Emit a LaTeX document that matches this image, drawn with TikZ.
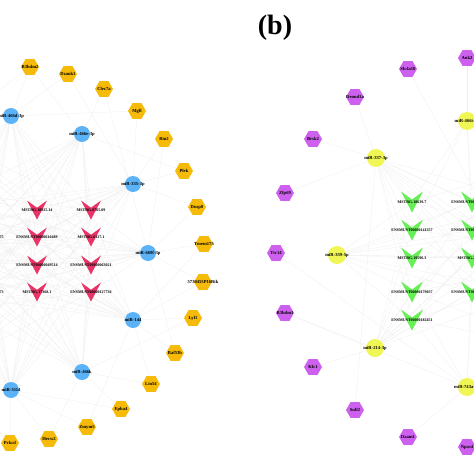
\documentclass[tikz,border=0pt]{standalone}
\usepackage{fontspec}
\setmainfont{Liberation Serif}
\usepackage{tikz}
\usetikzlibrary{calc, shapes.geometric, backgrounds}
\usepackage{xcolor}
\definecolor{hexgold}{RGB}{246,186,8}
\definecolor{mirblue}{RGB}{92,178,246}
\definecolor{lncpink}{RGB}{232,52,102}
\definecolor{hexpurple}{RGB}{205,96,238}
\definecolor{miryellow}{RGB}{240,246,84}
\definecolor{lncgreen}{RGB}{104,238,86}

\begin{document}
\begin{tikzpicture}[x=1pt, y=-1pt,
  edge/.style={draw=gray!13, line width=0.3pt},
  lab/.style={font=\fontsize{4.6}{5}\selectfont\bfseries, inner sep=0pt},
  tinylab/.style={font=\fontsize{4}{5}\selectfont\bfseries, inner sep=0pt},
  mrna/.style={regular polygon, regular polygon sides=6, minimum size=18pt, inner sep=0pt, fill=#1},
  mirna/.style={circle, minimum size=16pt, inner sep=0pt, fill=#1},
  vshape/.style={minimum width=20pt, minimum height=19pt, inner sep=0pt,
    path picture={\fill[#1] (path picture bounding box.north west)
      -- ($(path picture bounding box.north)!0.38!(path picture bounding box.south)$)
      -- (path picture bounding box.north east) -- (path picture bounding box.south) -- cycle;}},
]
  \useasboundingbox (0,0) rectangle (474,474);
  \clip (0,0) rectangle (474,474);

  % Panel tag
  \node[font=\fontsize{28}{30}\selectfont\bfseries] (tagb) at (275,28) {(b)};

  % Left: target genes
  \node[mrna=hexgold, label={[lab]center:R3hdm2}] (h1) at (30,67) {};
  \node[mrna=hexgold, label={[lab]center:Dzank1}] (h2) at (68,74) {};
  \node[mrna=hexgold, label={[lab]center:Clec7a}] (h3) at (104,89) {};
  \node[mrna=hexgold, label={[lab]center:Mgll}] (h4) at (137,111) {};
  \node[mrna=hexgold, label={[lab]center:Rin2}] (h5) at (164,139) {};
  \node[mrna=hexgold, label={[lab]center:Plek}] (h6) at (184,171) {};
  \node[mrna=hexgold, label={[lab]center:Dusp8}] (h7) at (197,207) {};
  \node[mrna=hexgold, label={[lab]center:Tmem175}] (h8) at (204,244) {};
  \node[mrna=hexgold, label={[lab]center:5730455P16Rik}] (h9) at (203,282) {};
  \node[mrna=hexgold, label={[lab]center:Lyl1}] (h10) at (193,318) {};
  \node[mrna=hexgold, label={[lab]center:Baf53b}] (h11) at (175,353) {};
  \node[mrna=hexgold, label={[lab]center:Lin54}] (h12) at (151,384) {};
  \node[mrna=hexgold, label={[lab]center:Epha4}] (h13) at (121,409) {};
  \node[mrna=hexgold, label={[lab]center:Zmym5}] (h14) at (87,427) {};
  \node[mrna=hexgold, label={[lab]center:Hecw2}] (h15) at (49,439) {};
  \node[mrna=hexgold, label={[lab]center:Prkcd}] (h16) at (10,443) {};

  % Left: miRNAs
  \node[mirna=mirblue, label={[lab]center:miR-466d-3p}] (m1) at (11,116) {};
  \node[mirna=mirblue, label={[lab]center:miR-466e-3p}] (m2) at (82,134) {};
  \node[mirna=mirblue, label={[lab]center:miR-335-3p}] (m3) at (133,184) {};
  \node[mirna=mirblue, label={[lab]center:miR-669f-3p}] (m4) at (148,253) {};
  \node[mirna=mirblue, label={[lab]center:miR-144}] (m5) at (133,320) {};
  \node[mirna=mirblue, label={[lab]center:miR-466k}] (m6) at (82,372) {};
  \node[mirna=mirblue, label={[lab]center:miR-5114}] (m7) at (11,390) {};
  % miRNAs cut off at the left edge
  \coordinate (m8) at (-60,134);
  \coordinate (m9) at (-111,184);
  \coordinate (m10) at (-126,253);
  \coordinate (m11) at (-111,320);
  \coordinate (m12) at (-60,372);

  % Left: lncRNAs
  \node[vshape=lncpink, label={[tinylab]center:MSTRG.18925.14}] (a1) at (37,210) {};
  \node[vshape=lncpink, label={[tinylab]center:MSTRG.8765.09}] (a2) at (91,210) {};
  \node[vshape=lncpink, label={[tinylab]center:ENSMUST00000110489}] (a3) at (37,237) {};
  \node[vshape=lncpink, label={[tinylab]center:MSTRG.6127.1}] (a4) at (91,237) {};
  \node[vshape=lncpink, label={[tinylab]center:ENSMUST00000049514}] (a5) at (37,265) {};
  \node[vshape=lncpink, label={[tinylab]center:ENSMUST00000063021}] (a6) at (91,265) {};
  \node[vshape=lncpink, label={[tinylab]center:MSTRG.17368.1}] (a7) at (37,292) {};
  \node[vshape=lncpink, label={[tinylab]center:ENSMUST00000127736}] (a8) at (91,292) {};
  \coordinate (a9) at (-17,210);
  \node[vshape=lncpink, label={[tinylab]center:ENSMUST00000114775}] (a10) at (-17,237) {};
  \coordinate (a11) at (-17,265);
  \node[vshape=lncpink, label={[tinylab]center:ENSMUST00000163273}] (a12) at (-17,292) {};
  \coordinate (a13) at (-71,210);
  \coordinate (a14) at (-71,237);
  \coordinate (a15) at (-71,265);
  \coordinate (a16) at (-71,292);

  % Right: target genes
  \node[mrna=hexpurple, label={[lab]center:Ank2}] (p1) at (467,58) {};
  \node[mrna=hexpurple, label={[lab]center:Slc4a10}] (p2) at (408,69) {};
  \node[mrna=hexpurple, label={[lab]center:Dennd1a}] (p3) at (355,97) {};
  \node[mrna=hexpurple, label={[lab]center:Brsk2}] (p4) at (313,139) {};
  \node[mrna=hexpurple, label={[lab]center:Zfp69}] (p5) at (285,193) {};
  \node[mrna=hexpurple, label={[lab]center:Ttc14}] (p6) at (276,253) {};
  \node[mrna=hexpurple, label={[lab]center:R3hdm1}] (p7) at (285,313) {};
  \node[mrna=hexpurple, label={[lab]center:Klc1}] (p8) at (313,367) {};
  \node[mrna=hexpurple, label={[lab]center:Sulf2}] (p9) at (355,410) {};
  \node[mrna=hexpurple, label={[lab]center:Daam1}] (p10) at (408,437) {};
  \node[mrna=hexpurple, label={[lab]center:Npas4}] (p11) at (467,447) {};

  % Right: miRNAs
  \node[mirna=miryellow, minimum size=18pt, label={[lab]center:miR-466i-5p}] (y1) at (467,121) {};
  \node[mirna=miryellow, minimum size=18pt, label={[lab]center:miR-337-3p}] (y2) at (376,158) {};
  \node[mirna=miryellow, minimum size=18pt, label={[lab]center:miR-339-5p}] (y3) at (337,255) {};
  \node[mirna=miryellow, minimum size=18pt, label={[lab]center:miR-214-3p}] (y4) at (375,348) {};
  \node[mirna=miryellow, minimum size=18pt, label={[lab]center:miR-743a-5p}] (y5) at (467,387) {};
  \coordinate (y6) at (558,158);
  \coordinate (y7) at (600,255);
  \coordinate (y8) at (560,348);

  % Right: lncRNAs
  \node[vshape=lncgreen, minimum width=22pt, minimum height=21pt, label={[tinylab]center:MSTRG.18639.7}] (g1) at (412,202) {};
  \node[vshape=lncgreen, minimum width=22pt, minimum height=21pt, label={[tinylab]center:ENSMUST00000141357}] (g2) at (412,230) {};
  \node[vshape=lncgreen, minimum width=22pt, minimum height=21pt, label={[tinylab]center:MSTRG.19596.3}] (g3) at (412,258) {};
  \node[vshape=lncgreen, minimum width=22pt, minimum height=21pt, label={[tinylab]center:ENSMUST00000179037}] (g4) at (412,292) {};
  \node[vshape=lncgreen, minimum width=22pt, minimum height=21pt, label={[tinylab]center:ENSMUST00000182451}] (g5) at (412,320) {};
  \node[vshape=lncgreen, minimum width=22pt, minimum height=21pt, label={[tinylab]center:ENSMUST00000028744}] (g6) at (472,202) {};
  \node[vshape=lncgreen, minimum width=22pt, minimum height=21pt, label={[tinylab]center:ENSMUST00000069832}] (g7) at (472,230) {};
  \node[vshape=lncgreen, minimum width=22pt, minimum height=21pt, label={[tinylab]center:MSTRG.22187.4}] (g8) at (472,258) {};
  \node[vshape=lncgreen, minimum width=22pt, minimum height=21pt, label={[tinylab]center:ENSMUST00000110365}] (g9) at (472,292) {};
  \coordinate (g10) at (530,202);
  \coordinate (g11) at (530,230);
  \coordinate (g12) at (530,258);
  \coordinate (g13) at (530,292);

  % Interactions
  \begin{scope}[on background layer]
    \clip (0,0) rectangle (474,474);
    \foreach \m in {m1,m2,m3,m4,m5,m6,m7,m8,m9,m10,m11,m12}
      \foreach \a in {a1,a2,a3,a4,a5,a6,a7,a8,a9,a10,a11,a12,a13,a14,a15,a16}
        \draw[edge] (\m) -- (\a);
    \foreach \h/\m in {h1/m1,h1/m2,h1/m8,h2/m1,h2/m3,h3/m2,h3/m4,h4/m3,h4/m1,h5/m3,h5/m4,
        h6/m3,h6/m2,h7/m4,h7/m3,h8/m4,h8/m5,h9/m4,h9/m5,h10/m5,h10/m6,h11/m5,h11/m4,
        h12/m6,h12/m5,h13/m6,h13/m7,h14/m5,h14/m7,h15/m6,h15/m7,h16/m7,h16/m12}
      \draw[edge] (\h) -- (\m);
    \foreach \y in {y2,y3,y4,y6,y7,y8}
      \foreach \g in {g1,g2,g3,g4,g5,g6,g7,g8,g9,g10,g11,g12,g13}
        \draw[edge] (\y) -- (\g);
    \foreach \g in {g1,g2,g6,g7,g10}
      \draw[edge] (y1) -- (\g);
    \foreach \g in {g4,g5,g8,g9,g13}
      \draw[edge] (y5) -- (\g);
    \foreach \p/\y in {p1/y1,p2/y8,p3/y2,p4/y2,p5/y2,p6/y5,p7/y4,p7/y5,p8/y4,
        p9/y2,p10/y5,p11/y8}
      \draw[edge] (\p) -- (\y);
  \end{scope}
\end{tikzpicture}
\end{document}
